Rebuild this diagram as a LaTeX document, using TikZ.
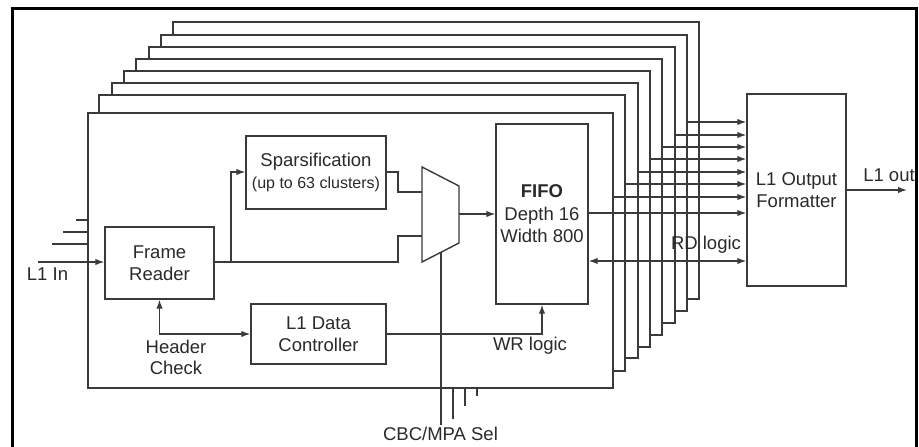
\documentclass[tikz,border=0pt]{standalone}
\usepackage{fontspec}
\setmainfont{Liberation Sans}
\usetikzlibrary{arrows.meta,calc}
\definecolor{ln}{HTML}{3A3A3A}
\definecolor{tx}{HTML}{2A2A2A}
\begin{document}
\begin{tikzpicture}[x=1pt,y=-1pt,
  >={Latex[length=9pt,width=6.5pt]},
  draw=ln, line width=1.4pt,
  blk/.style={draw=ln,line width=1.4pt,fill=white,inner sep=0pt,align=center,text=tx,
    font=\fontsize{18.5pt}{22.5pt}\selectfont},
  lbl/.style={inner sep=0pt,align=center,text=tx,font=\fontsize{18.5pt}{21pt}\selectfont},
  stackbox/.style={draw=ln,line width=1.4pt,fill=white,inner sep=0pt}]
\useasboundingbox (0,0) rectangle (919,447);
\fill[white] (0,0) rectangle (919,447);
% outer frame
\draw[line width=3pt,draw=black] (12,450) -- (12,8) -- (916,8) -- (916,450);
% stacked back boxes (back to front)
\foreach \k/\l/\t/\r/\b in {7/173/22/699/299, 6/161/35/687/311, 5/149/47/675/323, 4/136/59/662/335, 3/124/71/650/347, 2/112/83/638/358, 1/99/95/625/371}{
  \node[stackbox,minimum width={\r-\l},minimum height={\b-\t}] (b\k) at ({(\l+\r)/2},{(\t+\b)/2}) {};
}
\node[stackbox,minimum width=525,minimum height=275] (front) at (350.5,250.5) {};
% inner blocks
\node[blk,minimum width=109,minimum height=72] (fr) at (159.5,263) {Frame\\Reader};
\node[blk,minimum width=140,minimum height=73] (sp) at (316,172.5) {Sparsification\\[-1pt]{\fontsize{16pt}{19pt}\selectfont(up to 63 clusters)}};
\node[blk,minimum width=92,minimum height=180] (fifo) at (542,214) {\textbf{FIFO}\\Depth 16\\Width 800};
\node[blk,minimum width=135,minimum height=60] (dc) at (318.5,334) {L1 Data\\Controller};
\node[blk,minimum width=99,minimum height=192] (fmt) at (796.5,190) {L1 Output\\Formatter};
% mux
\coordinate (m1) at (422,167);
\coordinate (m2) at (459,186);
\coordinate (m3) at (459,243);
\coordinate (m4) at (422,262);
\draw[fill=white] (m1) -- (m2) -- (m3) -- (m4) -- cycle;
\coordinate (muxa) at (422,192);
\coordinate (muxb) at (422,236);
\coordinate (muxo) at (459,214);
\coordinate (muxs) at (441,252.2);
% labels
\node[lbl] (l1in) at (47.5,274) {L1 In};
\node[lbl] (hdr) at (176,357.5) {Header\\Check};
\node[lbl] (wr) at (530,346) {WR logic};
\node[lbl] (l1out) at (889,175) {L1 out};
\node[lbl] (sel) at (440.5,434) {CBC/MPA Sel};
% input lines
\coordinate (in0) at (38,262);
\draw[->] (in0) -- (fr.west |- in0);
\coordinate (in1) at (52,244);
\coordinate (in2) at (63,232);
\coordinate (in3) at (76,220);
\draw (in1) -- (front.west |- in1);
\draw (in2) -- (front.west |- in2);
\draw (in3) -- (front.west |- in3);
% frame reader to mux and sparsification
\coordinate (frx) at (214,262);
\coordinate (br) at (231,262);
\draw (frx) -- (398,262) -- (398,236) -- (muxb);
\draw[->] (br) -- (231,172) -- (sp.west |- 0,172);
\draw (sp.east |- 0,172) -- (398,172) -- (398,192) -- (muxa);
\draw[->] (muxo) -- (fifo.west |- muxo);
% header check
\draw[<->] (fr.south) |- (dc.west);
% WR logic
\draw[->] (dc.east) -| (fifo.south);
% mux select lines
\coordinate (s0) at (441,425);
\draw (muxs) -- (s0);
\coordinate (s1) at (453,419);
\coordinate (s2) at (465,406);
\coordinate (s3) at (477,396);
\draw (front.south -| s1) -- (s1);
\draw (front.south -| s2) -- (s2);
\draw (front.south -| s3) -- (s3);
% outputs to formatter
\draw[->] (b6.east |- 0,122) -- (fmt.west |- 0,122);
\draw[->] (b5.east |- 0,135) -- (fmt.west |- 0,135);
\draw[->] (b4.east |- 0,147) -- (fmt.west |- 0,147);
\draw[->] (b3.east |- 0,159) -- (fmt.west |- 0,159);
\draw[->] (b2.east |- 0,172) -- (fmt.west |- 0,172);
\draw[->] (b1.east |- 0,184) -- (fmt.west |- 0,184);
\draw[->] (front.east |- 0,197) -- (fmt.west |- 0,197);
\draw[->] (fifo.east |- 0,213) -- (fmt.west |- 0,213);
% RD logic
\coordinate (rdy) at (0,261);
\draw[<->] (fifo.east |- rdy) -- (fmt.west |- rdy);
\node[lbl] (rd) at (706,245) {RD logic};
% L1 out
\coordinate (outend) at (907,190);
\draw[->] (fmt.east) -- (outend);
\end{tikzpicture}
\end{document}
